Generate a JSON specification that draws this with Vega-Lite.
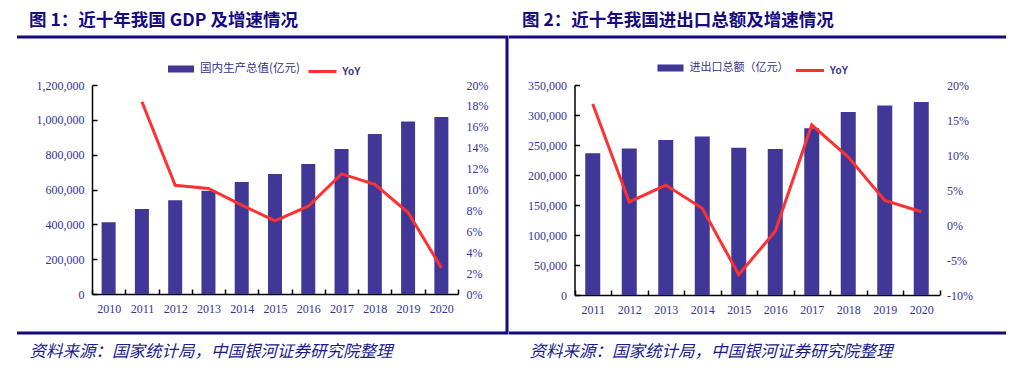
{
  "$schema": "https://vega.github.io/schema/vega-lite/v6.json",
  "background": "white",
  "padding": {"left": 15, "top": 10, "right": 0, "bottom": 0},
  "autosize": {"type": "pad"},
  "config": {
    "locale": {"number": {"decimal": ".", "thousands": ",", "grouping": [3], "currency": ["", ""], "minus": "-"}},
    "axis": {"labelFont": "Liberation Serif", "labelFontSize": 12, "labelColor": "#333399", "domainColor": "#000000", "tickColor": "#000000", "domainWidth": 1.5, "tickWidth": 1.5, "grid": false},
    "title": {"font": "Noto Sans CJK SC", "fontSize": 17.5, "fontWeight": "bold", "color": "#150a80", "anchor": "start", "frame": "group", "baseline": "bottom", "offset": 8}
  },
  "datasets": {
    "gdp": [
      {"year": "2010", "gdp": 412119, "yoy": null},
      {"year": "2011", "gdp": 487940, "yoy": 0.184},
      {"year": "2012", "gdp": 538580, "yoy": 0.104},
      {"year": "2013", "gdp": 592963, "yoy": 0.101},
      {"year": "2014", "gdp": 643563, "yoy": 0.085},
      {"year": "2015", "gdp": 688858, "yoy": 0.070},
      {"year": "2016", "gdp": 746395, "yoy": 0.084},
      {"year": "2017", "gdp": 832036, "yoy": 0.115},
      {"year": "2018", "gdp": 919281, "yoy": 0.105},
      {"year": "2019", "gdp": 990865, "yoy": 0.078},
      {"year": "2020", "gdp": 1015986, "yoy": 0.025}
    ],
    "trade": [
      {"year": "2011", "trade": 236402, "yoy": 0.173},
      {"year": "2012", "trade": 244160, "yoy": 0.033},
      {"year": "2013", "trade": 258169, "yoy": 0.057},
      {"year": "2014", "trade": 264242, "yoy": 0.024},
      {"year": "2015", "trade": 245503, "yoy": -0.071},
      {"year": "2016", "trade": 243386, "yoy": -0.009},
      {"year": "2017", "trade": 278101, "yoy": 0.143},
      {"year": "2018", "trade": 305010, "yoy": 0.097},
      {"year": "2019", "trade": 315627, "yoy": 0.035},
      {"year": "2020", "trade": 321557, "yoy": 0.019}
    ]
  },
  "spacing": -3,
  "resolve": {"scale": {"fill": "independent", "stroke": "independent"}, "legend": {"fill": "independent", "stroke": "independent"}},
  "hconcat": [
    {
      "width": 490,
      "height": 296,
      "data": {"name": "gdp"},
      "title": {"text": "图 1：近十年我国 GDP 及增速情况", "dx": 12},
      "view": {"stroke": "#150a80", "strokeWidth": 3, "strokeDash": [1276, 296]},
      "encoding": {
        "x": {
          "field": "year", "type": "ordinal", "sort": null,
          "scale": {"range": [75, 441], "paddingInner": 0, "paddingOuter": 0},
          "axis": {
            "title": "资料来源：国家统计局，中国银河证券研究院整理",
            "labelAngle": 0, "tickBand": "extent", "tickSize": -5, "labelPadding": 14, "offset": -39,
            "titleX": 12, "titleY": 57, "titleAlign": "left", "titleBaseline": "middle", "titleAnchor": "start",
            "titleFont": "Noto Sans CJK SC", "titleFontSize": 16.5, "titleFontStyle": "italic", "titleFontWeight": "normal", "titleColor": "#1a1a8a"
          }
        }
      },
      "layer": [
        {
          "mark": {"type": "bar", "size": 14},
          "encoding": {
            "y": {
              "field": "gdp", "type": "quantitative",
              "scale": {"domain": [0, 1200000], "range": [257, 48], "nice": false},
              "axis": {"orient": "left", "offset": -75, "values": [0, 200000, 400000, 600000, 800000, 1000000, 1200000], "format": ",d", "title": null, "tickSize": -5, "labelPadding": 13}
            },
            "fill": {
              "datum": "国内生产总值(亿元)", "type": "nominal",
              "scale": {"range": ["#413797"]},
              "legend": {"orient": "none", "legendX": 151, "legendY": 19, "direction": "horizontal", "title": null, "padding": 0,
                "symbolType": "M-1,-0.27H1V0.27H-1Z", "symbolSize": 676, "symbolStrokeWidth": 0,
                "labelFont": "Noto Sans CJK SC", "labelFontSize": 11.5, "labelColor": "#33338a", "labelOffset": 6}
            }
          }
        },
        {
          "mark": {"type": "line", "strokeWidth": 3},
          "encoding": {
            "y": {
              "field": "yoy", "type": "quantitative",
              "scale": {"domain": [0, 0.2], "range": [257, 48], "nice": false},
              "axis": {"orient": "right", "offset": -49, "values": [0, 0.02, 0.04, 0.06, 0.08, 0.1, 0.12, 0.14, 0.16, 0.18, 0.2], "format": ".0%", "domain": false, "ticks": false, "labelPadding": 8, "title": null}
            },
            "stroke": {
              "datum": "YoY", "type": "nominal",
              "scale": {"range": ["#ff3030"]},
              "legend": {"orient": "none", "legendX": 290, "legendY": 19, "direction": "horizontal", "title": null, "padding": 0,
                "symbolType": "stroke", "symbolSize": 784, "symbolStrokeWidth": 3,
                "labelFont": "Liberation Sans", "labelFontWeight": "bold", "labelFontSize": 10, "labelColor": "#33338a", "labelOffset": 4}
            }
          }
        }
      ],
      "resolve": {"scale": {"y": "independent"}}
    },
    {
      "width": 497,
      "height": 296,
      "data": {"name": "trade"},
      "title": {"text": "图 2：近十年我国进出口总额及增速情况", "dx": 13},
      "view": {"stroke": "#150a80", "strokeWidth": 3, "strokeDash": [497, 296]},
      "encoding": {
        "x": {
          "field": "year", "type": "ordinal", "sort": null,
          "scale": {"range": [65.5, 430.5], "paddingInner": 0, "paddingOuter": 0},
          "axis": {
            "title": "资料来源：国家统计局，中国银河证券研究院整理",
            "labelAngle": 0, "tickBand": "extent", "tickSize": -5, "labelPadding": 14, "offset": -38,
            "titleX": 20, "titleY": 56, "titleAlign": "left", "titleBaseline": "middle", "titleAnchor": "start",
            "titleFont": "Noto Sans CJK SC", "titleFontSize": 16.5, "titleFontStyle": "italic", "titleFontWeight": "normal", "titleColor": "#1a1a8a"
          }
        }
      },
      "layer": [
        {
          "mark": {"type": "bar", "size": 15},
          "encoding": {
            "y": {
              "field": "trade", "type": "quantitative",
              "scale": {"domain": [0, 350000], "range": [258, 48], "nice": false},
              "axis": {"orient": "left", "offset": -65.5, "values": [0, 50000, 100000, 150000, 200000, 250000, 300000, 350000], "format": ",d", "title": null, "tickSize": -5, "labelPadding": 13}
            },
            "fill": {
              "datum": "进出口总额（亿元）", "type": "nominal",
              "scale": {"range": ["#413797"]},
              "legend": {"orient": "none", "legendX": 148.5, "legendY": 18, "direction": "horizontal", "title": null, "padding": 0,
                "symbolType": "M-1,-0.27H1V0.27H-1Z", "symbolSize": 676, "symbolStrokeWidth": 0,
                "labelFont": "Noto Sans CJK SC", "labelFontSize": 11, "labelColor": "#33338a", "labelOffset": 6}
            }
          }
        },
        {
          "mark": {"type": "line", "strokeWidth": 3},
          "encoding": {
            "y": {
              "field": "yoy", "type": "quantitative",
              "scale": {"domain": [-0.1, 0.2], "range": [258, 48], "nice": false},
              "axis": {"orient": "right", "offset": -66.5, "values": [-0.1, -0.05, 0, 0.05, 0.1, 0.15, 0.2], "format": ".0%", "domain": false, "ticks": false, "labelPadding": 7, "title": null}
            },
            "stroke": {
              "datum": "YoY", "type": "nominal",
              "scale": {"range": ["#ff3030"]},
              "legend": {"orient": "none", "legendX": 285.5, "legendY": 18, "direction": "horizontal", "title": null, "padding": 0,
                "symbolType": "stroke", "symbolSize": 784, "symbolStrokeWidth": 3,
                "labelFont": "Liberation Sans", "labelFontWeight": "bold", "labelFontSize": 10, "labelColor": "#33338a", "labelOffset": 4}
            }
          }
        }
      ],
      "resolve": {"scale": {"y": "independent"}}
    }
  ]
}
